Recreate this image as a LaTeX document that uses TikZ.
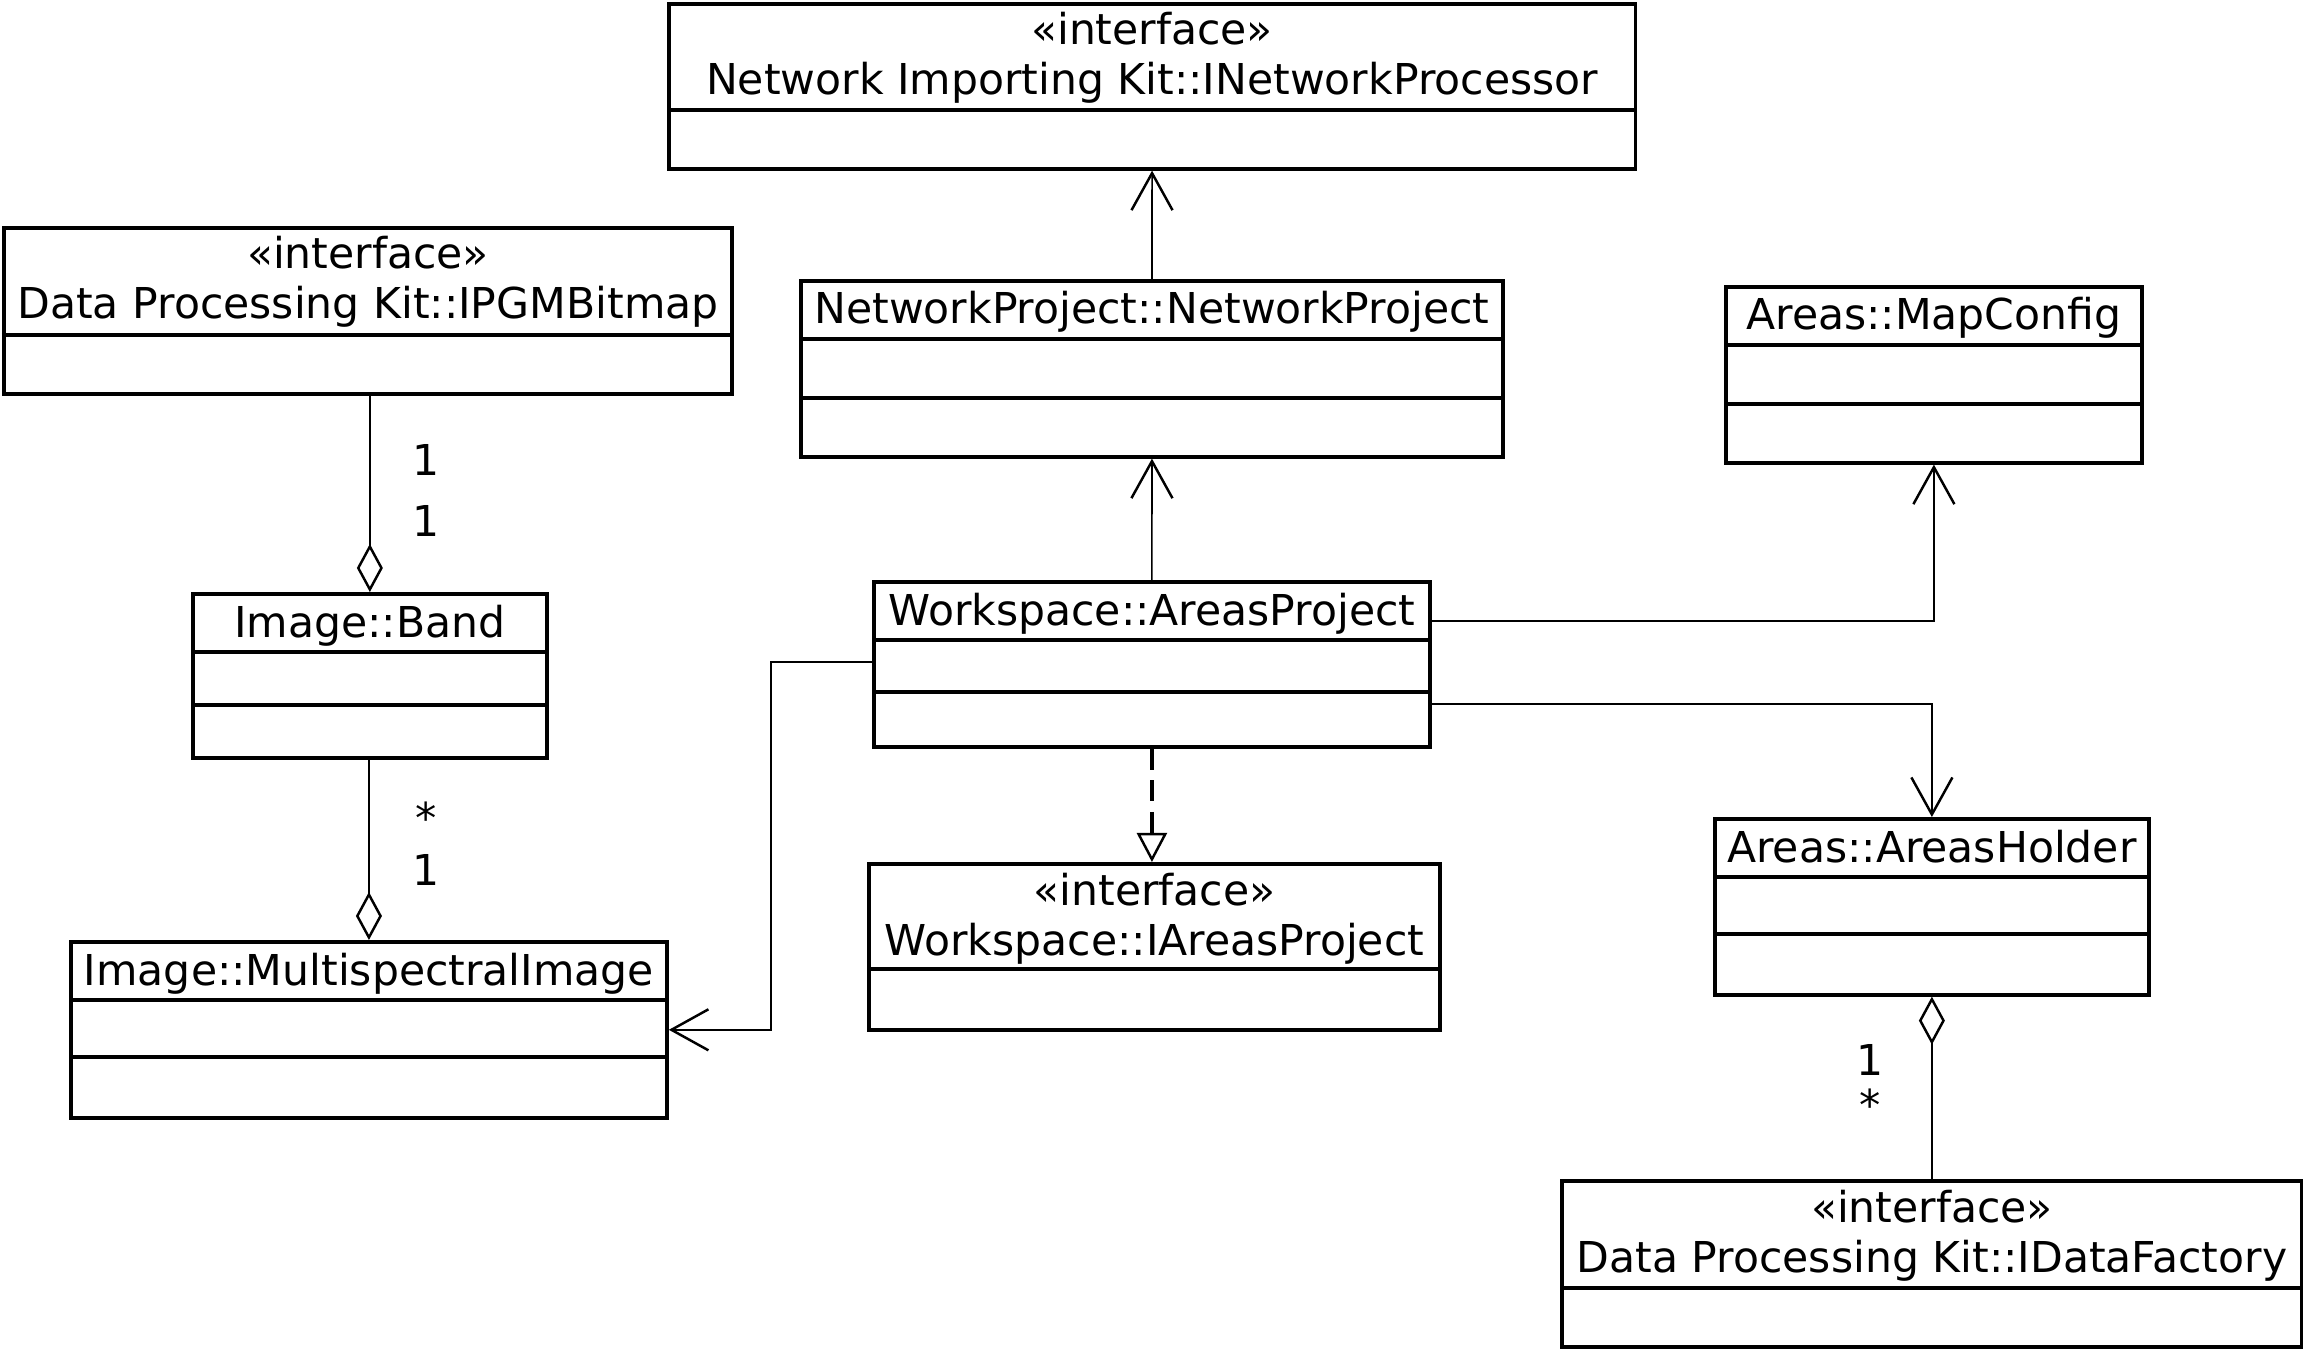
\documentclass[tikz,border=0pt]{standalone}
\usepackage{fontspec}
\setmainfont{DejaVu Sans}
\usetikzlibrary{arrows.meta,calc}

\tikzset{
  umlbox/.style={draw, line width=1pt, inner sep=0pt, anchor=north west},
  umlsep/.style={line width=1pt},
  umltext/.style={inner sep=0pt, anchor=base, font=\fontsize{12.1}{14.5}\selectfont},
  multi/.style={inner sep=0pt, font=\fontsize{12.1}{14.5}\selectfont},
  assoc/.style={line width=0.45pt, -{Straight Barb[length=3.7mm, width=4.1mm, line width=0.7pt]}},
  aggr/.style={line width=0.45pt, {Diamond[open, length=4.8mm, width=2.6mm, line width=0.7pt]}-},
  realize/.style={line width=0.9pt, dash pattern=on 6pt off 3pt, -{Triangle[open, length=2.9mm, width=3mm, line width=0.7pt]}},
}

\begin{document}
\begin{tikzpicture}[x=0.01cm, y=-0.01cm]
  \useasboundingbox (0,0) rectangle (2303,1349);

  % classes
  \node[umlbox, minimum width=9.66cm, minimum height=1.65cm] (inp) at (667,2) {};
  \node[umltext] (inp-s) at ($(inp.north)+(0,43)$) {«interface»};
  \node[umltext] (inp-t) at ($(inp.north)+(0,93)$) {Network Importing Kit::INetworkProcessor};
  \draw[umlsep] ($(inp.north west)+(0,108)$) -- ($(inp.north east)+(0,108)$);

  \node[umlbox, minimum width=7.28cm, minimum height=1.66cm] (ipgm) at (2,226) {};
  \node[umltext] (ipgm-s) at ($(ipgm.north)+(0,43)$) {«interface»};
  \node[umltext] (ipgm-t) at ($(ipgm.north)+(0,93)$) {Data Processing Kit::IPGMBitmap};
  \draw[umlsep] ($(ipgm.north west)+(0,109)$) -- ($(ipgm.north east)+(0,109)$);

  \node[umlbox, minimum width=7.02cm, minimum height=1.76cm] (nproj) at (799,279) {};
  \node[umltext] (nproj-t) at ($(nproj.north)+(0,45)$) {NetworkProject::NetworkProject};
  \draw[umlsep] ($(nproj.north west)+(0,60)$) -- ($(nproj.north east)+(0,60)$);
  \draw[umlsep] ($(nproj.north west)+(0,119)$) -- ($(nproj.north east)+(0,119)$);

  \node[umlbox, minimum width=4.16cm, minimum height=1.76cm] (mapc) at (1724,285) {};
  \node[umltext] (mapc-t) at ($(mapc.north)+(0,45)$) {Areas::MapConfig};
  \draw[umlsep] ($(mapc.north west)+(0,60)$) -- ($(mapc.north east)+(0,60)$);
  \draw[umlsep] ($(mapc.north west)+(0,119)$) -- ($(mapc.north east)+(0,119)$);

  \node[umlbox, minimum width=3.54cm, minimum height=1.64cm] (band) at (191,592) {};
  \node[umltext] (band-t) at ($(band.north)+(0,45)$) {Image::Band};
  \draw[umlsep] ($(band.north west)+(0,60)$) -- ($(band.north east)+(0,60)$);
  \draw[umlsep] ($(band.north west)+(0,113)$) -- ($(band.north east)+(0,113)$);

  \node[umlbox, minimum width=5.56cm, minimum height=1.65cm] (aproj) at (872,580) {};
  \node[umltext] (aproj-t) at ($(aproj.north)+(0,45)$) {Workspace::AreasProject};
  \draw[umlsep] ($(aproj.north west)+(0,60)$) -- ($(aproj.north east)+(0,60)$);
  \draw[umlsep] ($(aproj.north west)+(0,112)$) -- ($(aproj.north east)+(0,112)$);

  \node[umlbox, minimum width=5.71cm, minimum height=1.66cm] (iaproj) at (867,862) {};
  \node[umltext] (iaproj-s) at ($(iaproj.north)+(0,43)$) {«interface»};
  \node[umltext] (iaproj-t) at ($(iaproj.north)+(0,93)$) {Workspace::IAreasProject};
  \draw[umlsep] ($(iaproj.north west)+(0,107)$) -- ($(iaproj.north east)+(0,107)$);

  \node[umlbox, minimum width=4.34cm, minimum height=1.76cm] (holder) at (1713,817) {};
  \node[umltext] (holder-t) at ($(holder.north)+(0,45)$) {Areas::AreasHolder};
  \draw[umlsep] ($(holder.north west)+(0,60)$) -- ($(holder.north east)+(0,60)$);
  \draw[umlsep] ($(holder.north west)+(0,117)$) -- ($(holder.north east)+(0,117)$);

  \node[umlbox, minimum width=5.96cm, minimum height=1.76cm] (msi) at (69,940) {};
  \node[umltext] (msi-t) at ($(msi.north)+(0,45)$) {Image::MultispectralImage};
  \draw[umlsep] ($(msi.north west)+(0,60)$) -- ($(msi.north east)+(0,60)$);
  \draw[umlsep] ($(msi.north west)+(0,117)$) -- ($(msi.north east)+(0,117)$);

  \node[umlbox, minimum width=7.40cm, minimum height=1.66cm] (idf) at (1560,1179) {};
  \node[umltext] (idf-s) at ($(idf.north)+(0,43)$) {«interface»};
  \node[umltext] (idf-t) at ($(idf.north)+(0,93)$) {Data Processing Kit::IDataFactory};
  \draw[umlsep] ($(idf.north west)+(0,109)$) -- ($(idf.north east)+(0,109)$);

  % relations
  \draw[assoc] (nproj.north) -- (inp.south);
  \draw[assoc] (aproj.north) -- (nproj.south);
  \draw[assoc] ($(aproj.north east)+(0,41)$) -| (mapc.south);
  \draw[assoc] ($(aproj.north east)+(0,124)$) -| (holder.north);
  \coordinate (bend) at ($(msi.east)+(102,0)$);
  \draw[assoc] ($(aproj.north west)+(0,82)$) -| (bend) -- (msi.east);
  \draw[realize] (aproj.south) -- (aproj.south |- iaproj.north);

  \draw[aggr] (band.north) -- (band.north |- ipgm.south);
  \draw[aggr] (msi.north) -- (msi.north |- band.south);
  \draw[aggr] (holder.south) -- (holder.south |- idf.north);

  % multiplicities
  \node[multi] (m1) at (426,460) {1};
  \node[multi] (m2) at (426,521) {1};
  \node[multi] (m3) at (426,818) {*};
  \node[multi] (m4) at (426,870) {1};
  \node[multi] (m5) at (1870,1060) {1};
  \node[multi] (m6) at (1870,1105) {*};
\end{tikzpicture}
\end{document}
